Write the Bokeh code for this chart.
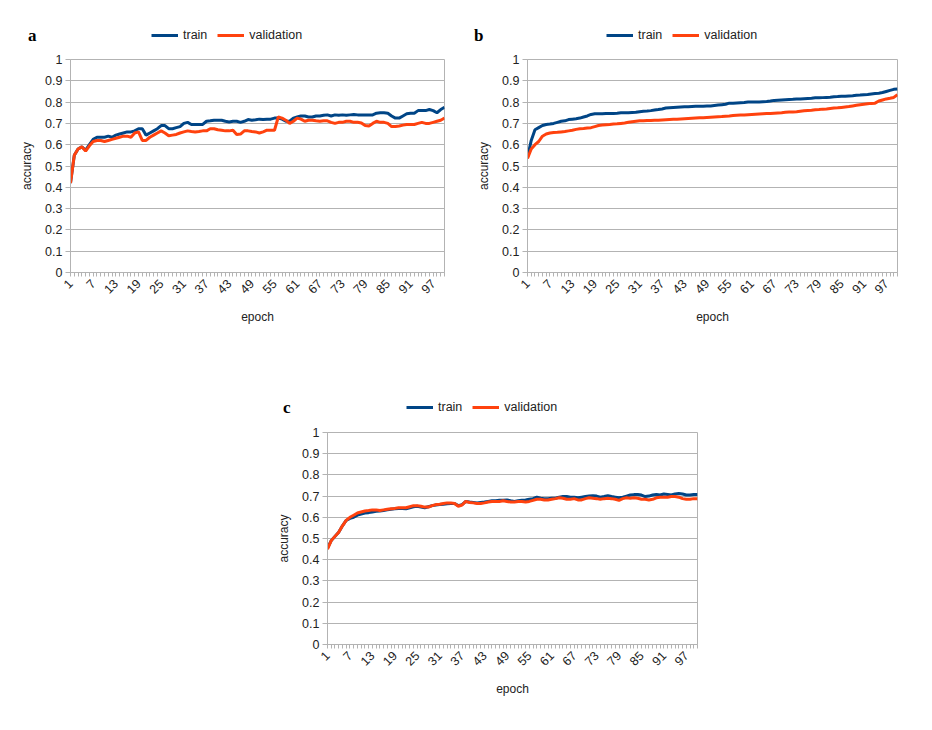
import math
from bokeh.plotting import figure
from bokeh.models import (Range1d, FixedTicker, Legend, LegendItem, Spacer)
from bokeh.layouts import row, column
from bokeh.embed import file_html
from bokeh.resources import INLINE

epochs = list(range(1, 101))
x_tick_labels = [1, 7, 13, 19, 25, 31, 37, 43, 49, 55, 61, 67, 73, 79, 85, 91, 97]
y_ticks = [0, 0.1, 0.2, 0.3, 0.4, 0.5, 0.6, 0.7, 0.8, 0.9, 1]
series_names = ["train", "validation"]
panel_letters = ["a", "b", "c"]

train_a = [0.42, 0.55, 0.58, 0.59, 0.575, 0.60, 0.625, 0.635, 0.635, 0.635,
           0.64, 0.635, 0.645, 0.65, 0.655, 0.66, 0.66, 0.665, 0.675, 0.675,
           0.645, 0.655, 0.665, 0.675, 0.69, 0.69, 0.675, 0.675, 0.68, 0.685,
           0.70, 0.705, 0.695, 0.695, 0.695, 0.695, 0.71, 0.712, 0.715, 0.715,
           0.715, 0.71, 0.707, 0.71, 0.71, 0.705, 0.71, 0.718, 0.715, 0.717,
           0.72, 0.718, 0.72, 0.72, 0.725, 0.725, 0.72, 0.71, 0.71, 0.725,
           0.73, 0.735, 0.735, 0.73, 0.73, 0.735, 0.735, 0.738, 0.74, 0.735,
           0.74, 0.738, 0.74, 0.738, 0.74, 0.742, 0.74, 0.74, 0.74, 0.74,
           0.74, 0.748, 0.75, 0.75, 0.748, 0.735, 0.725, 0.725, 0.735, 0.745,
           0.748, 0.748, 0.76, 0.76, 0.76, 0.765, 0.76, 0.75, 0.765, 0.775]
val_a = [0.42, 0.55, 0.58, 0.59, 0.57, 0.595, 0.615, 0.62, 0.62, 0.615,
         0.62, 0.625, 0.63, 0.635, 0.64, 0.64, 0.635, 0.655, 0.66, 0.62,
         0.62, 0.635, 0.645, 0.655, 0.665, 0.655, 0.642, 0.645, 0.648, 0.655,
         0.66, 0.665, 0.662, 0.66, 0.662, 0.665, 0.665, 0.675, 0.675, 0.67,
         0.668, 0.665, 0.665, 0.668, 0.648, 0.65, 0.665, 0.665, 0.662, 0.66,
         0.655, 0.66, 0.668, 0.668, 0.668, 0.73, 0.725, 0.715, 0.70, 0.71,
         0.725, 0.72, 0.71, 0.715, 0.715, 0.712, 0.71, 0.712, 0.712, 0.705,
         0.70, 0.705, 0.705, 0.71, 0.71, 0.705, 0.705, 0.702, 0.69, 0.688,
         0.70, 0.71, 0.705, 0.705, 0.70, 0.685, 0.685, 0.688, 0.692, 0.695,
         0.695, 0.695, 0.70, 0.705, 0.70, 0.70, 0.705, 0.71, 0.715, 0.725]

train_b = [0.54, 0.62, 0.67, 0.68, 0.69, 0.695, 0.697, 0.70, 0.705, 0.71,
           0.712, 0.718, 0.72, 0.722, 0.725, 0.73, 0.735, 0.742, 0.745, 0.745,
           0.745, 0.746, 0.746, 0.747, 0.748, 0.75, 0.75, 0.75, 0.751, 0.752,
           0.755, 0.757, 0.758, 0.76, 0.763, 0.765, 0.768, 0.772, 0.774, 0.775,
           0.776, 0.777, 0.778, 0.778, 0.779, 0.78, 0.78, 0.781, 0.782, 0.782,
           0.784, 0.786, 0.788, 0.79, 0.795, 0.795, 0.796, 0.797, 0.798, 0.80,
           0.80, 0.80, 0.801, 0.802, 0.803, 0.805, 0.808, 0.809, 0.81, 0.811,
           0.812, 0.813, 0.815, 0.815, 0.816, 0.817, 0.818, 0.82, 0.82, 0.821,
           0.822, 0.823, 0.825, 0.826, 0.828, 0.828, 0.829, 0.83, 0.832, 0.833,
           0.835, 0.836, 0.838, 0.84, 0.842, 0.845, 0.85, 0.855, 0.86, 0.862]
val_b = [0.535, 0.58, 0.60, 0.615, 0.64, 0.65, 0.655, 0.657, 0.658, 0.66,
         0.662, 0.665, 0.668, 0.672, 0.675, 0.676, 0.678, 0.68, 0.685, 0.69,
         0.692, 0.694, 0.695, 0.697, 0.698, 0.70, 0.702, 0.705, 0.708, 0.71,
         0.712, 0.713, 0.714, 0.714, 0.715, 0.715, 0.716, 0.717, 0.718, 0.719,
         0.72, 0.721, 0.722, 0.723, 0.724, 0.725, 0.726, 0.727, 0.728, 0.729,
         0.73, 0.731, 0.732, 0.734, 0.735, 0.737, 0.738, 0.739, 0.74, 0.741,
         0.742, 0.743, 0.744, 0.745, 0.746, 0.747, 0.748, 0.749, 0.75, 0.752,
         0.753, 0.754, 0.755, 0.757, 0.759, 0.761, 0.762, 0.764, 0.765, 0.767,
         0.768, 0.77, 0.772, 0.773, 0.775, 0.777, 0.779, 0.782, 0.785, 0.788,
         0.79, 0.792, 0.794, 0.795, 0.805, 0.81, 0.815, 0.818, 0.822, 0.835]

train_c = [0.455, 0.49, 0.51, 0.53, 0.56, 0.585, 0.595, 0.60, 0.61, 0.615,
           0.62, 0.622, 0.625, 0.628, 0.63, 0.632, 0.635, 0.638, 0.64, 0.642,
           0.642, 0.64, 0.645, 0.65, 0.652, 0.648, 0.645, 0.65, 0.655, 0.658,
           0.66, 0.662, 0.664, 0.665, 0.665, 0.655, 0.66, 0.675, 0.672, 0.67,
           0.668, 0.67, 0.672, 0.675, 0.678, 0.678, 0.68, 0.68, 0.682, 0.678,
           0.675, 0.678, 0.68, 0.682, 0.685, 0.688, 0.695, 0.69, 0.688, 0.688,
           0.69, 0.69, 0.695, 0.698, 0.698, 0.695, 0.695, 0.692, 0.695, 0.698,
           0.70, 0.702, 0.70, 0.695, 0.698, 0.702, 0.698, 0.695, 0.692, 0.695,
           0.70, 0.705, 0.707, 0.708, 0.705, 0.698, 0.70, 0.705, 0.708, 0.705,
           0.71, 0.708, 0.705, 0.71, 0.712, 0.71, 0.705, 0.705, 0.708, 0.708]
val_c = [0.45, 0.49, 0.51, 0.53, 0.56, 0.585, 0.60, 0.61, 0.62, 0.625,
         0.63, 0.632, 0.635, 0.635, 0.632, 0.635, 0.638, 0.64, 0.642, 0.645,
         0.645, 0.645, 0.65, 0.655, 0.655, 0.652, 0.648, 0.648, 0.655, 0.66,
         0.662, 0.665, 0.668, 0.668, 0.665, 0.652, 0.658, 0.675, 0.67, 0.668,
         0.665, 0.665, 0.668, 0.672, 0.675, 0.675, 0.675, 0.678, 0.675, 0.672,
         0.672, 0.675, 0.675, 0.672, 0.675, 0.68, 0.685, 0.685, 0.682, 0.682,
         0.685, 0.688, 0.692, 0.69, 0.685, 0.685, 0.688, 0.682, 0.682, 0.688,
         0.692, 0.69, 0.688, 0.685, 0.688, 0.69, 0.688, 0.685, 0.68, 0.688,
         0.692, 0.69, 0.692, 0.69, 0.685, 0.685, 0.682, 0.685, 0.692, 0.695,
         0.695, 0.695, 0.698, 0.698, 0.695, 0.688, 0.685, 0.685, 0.688, 0.688]

TRAIN_COLOR = "#004586"
VAL_COLOR = "#ff420e"
GRID = "#b3b3b3"
TEXT = "#222222"
FONT = "Liberation Sans"


def make_header(letter, train, val, width, height, border_left, border_right,
                letter_y, letter_standoff, legend_x, legend_y):
    """Strip above a chart: panel letter (left margin) and the legend."""
    h = figure(width=width, height=height,
               min_border_left=border_left, min_border_right=border_right,
               min_border_top=0, min_border_bottom=0,
               x_range=Range1d(1, 100), y_range=Range1d(0, height),
               x_axis_location=None, y_axis_location="left",
               output_backend="svg", toolbar_location=None, tools="")
    h.grid.visible = False
    h.outline_line_color = None
    h.background_fill_color = "white"
    h.border_fill_color = "white"
    # panel letter shown in the strip's left margin
    h.yaxis.ticker = FixedTicker(ticks=[letter_y])
    h.yaxis.major_label_overrides = {letter_y: letter}
    h.yaxis.axis_line_color = None
    h.yaxis.major_tick_line_color = None
    h.yaxis.minor_tick_line_color = None
    h.yaxis.major_tick_in = 0
    h.yaxis.major_tick_out = 0
    h.yaxis.major_label_standoff = letter_standoff
    h.yaxis.major_label_text_font = "Liberation Serif"
    h.yaxis.major_label_text_font_style = "bold"
    h.yaxis.major_label_text_font_size = "17px"
    h.yaxis.major_label_text_color = "#000000"
    # the series themselves, not shown here, only keyed by the legend
    r_train = h.line(epochs, train, line_color=TRAIN_COLOR, line_width=3,
                     visible=False)
    r_val = h.line(epochs, val, line_color=VAL_COLOR, line_width=3,
                   visible=False)
    legend = Legend(items=[LegendItem(label=series_names[0], renderers=[r_train]),
                           LegendItem(label=series_names[1], renderers=[r_val])],
                    orientation="horizontal", location=(legend_x, legend_y),
                    padding=0, margin=0, spacing=10, glyph_width=27,
                    glyph_height=20, label_height=20, label_standoff=5,
                    label_text_font=FONT, label_text_font_size="12.5px",
                    label_text_color=TEXT,
                    border_line_alpha=0, background_fill_alpha=0)
    h.add_layout(legend)
    return h


def make_chart(train, val, border_left, border_right, border_top,
               border_bottom, frame_w, frame_h):
    p = figure(frame_width=frame_w, frame_height=frame_h,
               min_border_left=border_left, min_border_right=border_right,
               min_border_top=border_top, min_border_bottom=border_bottom,
               x_range=Range1d(1, 100), y_range=Range1d(0, 1),
               output_backend="svg", toolbar_location=None, tools="")
    p.outline_line_color = GRID
    p.background_fill_color = "white"
    p.border_fill_color = "white"

    p.xgrid.grid_line_color = None
    p.ygrid.grid_line_color = GRID
    p.ygrid.ticker = FixedTicker(ticks=y_ticks)

    p.yaxis.ticker = FixedTicker(ticks=y_ticks)
    p.yaxis.major_label_overrides = {0: "0", 1: "1"}
    p.yaxis.minor_tick_line_color = None
    p.yaxis.major_tick_in = 0
    p.yaxis.major_tick_out = 5
    p.yaxis.major_tick_line_color = GRID
    p.yaxis.axis_line_color = GRID
    p.yaxis.major_label_standoff = 3
    p.yaxis.major_label_text_font = FONT
    p.yaxis.major_label_text_font_size = "12.5px"
    p.yaxis.major_label_text_color = TEXT
    p.yaxis.axis_label = "accuracy"
    p.yaxis.axis_label_text_font = FONT
    p.yaxis.axis_label_text_font_size = "12px"
    p.yaxis.axis_label_text_font_style = "normal"
    p.yaxis.axis_label_text_color = TEXT
    p.yaxis.axis_label_standoff = 8

    p.xaxis.ticker = FixedTicker(ticks=epochs)
    p.xaxis.major_label_overrides = {e: (str(e) if e in x_tick_labels else "")
                                     for e in epochs}
    p.xaxis.minor_tick_line_color = None
    p.xaxis.major_tick_in = 0
    p.xaxis.major_tick_out = 4
    p.xaxis.major_tick_line_color = GRID
    p.xaxis.axis_line_color = GRID
    p.xaxis.major_label_orientation = math.pi / 4
    p.xaxis.major_label_standoff = 5
    p.xaxis.major_label_text_font = FONT
    p.xaxis.major_label_text_font_size = "12.5px"
    p.xaxis.major_label_text_color = TEXT
    p.xaxis.axis_label = "epoch"
    p.xaxis.axis_label_text_font = FONT
    p.xaxis.axis_label_text_font_size = "12px"
    p.xaxis.axis_label_text_font_style = "normal"
    p.xaxis.axis_label_text_color = TEXT
    p.xaxis.axis_label_standoff = 9

    p.line(epochs, train, line_color=TRAIN_COLOR, line_width=3)
    p.line(epochs, val, line_color=VAL_COLOR, line_width=3)
    return p


# panel a: x 0..460, header 0..49, chart 49..340
ha = make_header(panel_letters[0], train_a, val_a, 460, 49, 70, 16,
                 14.5, 34, 81, 4)
pa = make_chart(train_a, val_a, 70, 16, 10, 68, 374, 213)
# panel b: x 460..916
hb = make_header(panel_letters[1], train_b, val_b, 456, 49, 67, 19,
                 14.5, 44, 79, 4)
pb = make_chart(train_b, val_b, 67, 19, 10, 68, 370, 213)
# panel c: x 260..730, header 340..422, chart 422..714
hc = make_header(panel_letters[2], train_c, val_c, 470, 82, 67, 33,
                 15.5, 37, 79, 5)
pc = make_chart(train_c, val_c, 67, 33, 10, 70, 370, 212)

layout = column(row(column(ha, pa), column(hb, pb)),
                row(Spacer(width=260, height=374), column(hc, pc)))

with open("out.html", "w") as f:
    f.write(file_html(layout, INLINE))
